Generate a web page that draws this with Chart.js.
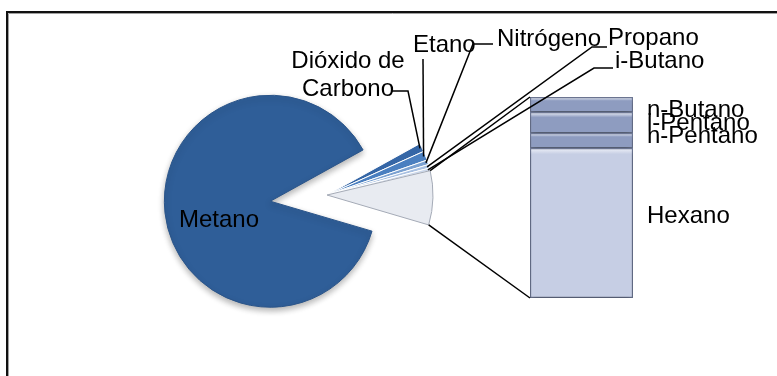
<!DOCTYPE html>
<html>
<head>
<meta charset="utf-8">
<script src="https://cdn.jsdelivr.net/npm/chart.js@4.4.0/dist/chart.umd.min.js"></script>
<style>
  html, body { margin: 0; padding: 0; background: #fff; }
  #wrap { position: relative; width: 777px; height: 376px; overflow: hidden; }
  #wrap canvas { position: absolute; left: 0; top: 0; }
</style>
</head>
<body>
<div id="wrap">
  <canvas id="metanoChart" width="777" height="376"></canvas>
  <canvas id="pieChart" width="777" height="376"></canvas>
  <canvas id="barChart" width="777" height="376"></canvas>
</div>
<script>
// composición del gas (%)
const pieLabels = ['Metano', 'Dióxido de Carbono', 'Etano', 'Nitrógeno', 'Propano', 'i-Butano'];
const pieValues = [87.4, 1.3, 1.4, 0.7, 0.55, 0.4];
const barLabels = ['n-Butano', 'i-Pentano', 'n-Pentano', 'Hexano'];
const barValues = [0.62, 0.86, 0.62, 6.15];

const otherTotal = barValues.reduce((a, b) => a + b, 0);
const allValues = [...pieValues, otherTotal];
const total = allValues.reduce((a, b) => a + b, 0);

const pieColors = ['#2f5e98', '#3566a6', '#4a7fc0', '#7ba1d1', '#a8c0e1', '#cbd8ec', '#e8ebf1'];
const pieBorders = ['#2a5489', '#ffffff', '#ffffff', '#ffffff', '#ffffff', '#ffffff', '#a4aab6'];
const barColors = ['#8e9cc0', '#8e9cc0', '#8e9cc0', '#c6cee4'];

const FONT = '24px "Liberation Sans", Arial, sans-serif';

// pie geometry
const ROTATION = 106.4;         // start of Metano, degrees (chart.js: 0 = up)
const PIE_CX = 327, PIE_CY = 195, PIE_R = 106;
const EXPLODE = 57;             // Metano pulled out to the left

// label layout (text anchor, baseline) and leader elbows toward each slice
const pieLabelPos = [
  { x: 179, y: 227, align: 'left' },
  { x: 348, y: 68, align: 'center', lines: ['Dióxido de', 'Carbono'], lh: 28 },
  { x: 413, y: 52, align: 'left' },
  { x: 497, y: 46, align: 'left' },
  { x: 608, y: 45, align: 'left' },
  { x: 615, y: 68, align: 'left' }
];
const leaderPaths = [
  null,
  [[392, 91], [408, 91]],
  [[423, 59]],
  [[493, 44], [473, 44]],
  [[607, 47], [592, 47]],
  [[613, 68], [594, 68]]
];
const barLabelBaselines = [117, 130, 143, 223];

function padAround(cx, cy) {
  return { left: cx - 110, right: 777 - cx - 110, top: cy - 100, bottom: 376 - cy - 100 };
}

// direction of Metano's mid angle -> where its center goes
const metanoMid = (ROTATION - 90 + (allValues[0] / total) * 180) * Math.PI / 180;
const metanoCx = PIE_CX + Math.cos(metanoMid) * EXPLODE;
const metanoCy = PIE_CY + Math.sin(metanoMid) * EXPLODE;

const framePlugin = {
  id: 'frame',
  beforeDraw(chart) {
    const c = chart.ctx;
    c.save();
    c.strokeStyle = '#111';
    c.lineWidth = 2;
    c.beginPath();
    c.moveTo(7, 376); c.lineTo(7, 12); c.lineTo(777, 12);
    c.stroke();
    c.strokeStyle = '#a0a0a0';
    c.lineWidth = 1;
    c.beginPath();
    c.moveTo(8.5, 376); c.lineTo(8.5, 13.5); c.lineTo(777, 13.5);
    c.stroke();
    c.restore();
  }
};

// soft drop shadow under the marks
const shadowPlugin = {
  id: 'softShadow',
  beforeDatasetsDraw(chart) {
    const c = chart.ctx;
    c.save();
    c.shadowColor = 'rgba(0,0,0,0.30)';
    c.shadowBlur = 6;
    c.shadowOffsetY = 3;
  },
  afterDatasetsDraw(chart) {
    chart.ctx.restore();
  }
};

function pieConfig(cx, cy, colors, borders, extraPlugins) {
  return {
    type: 'pie',
    data: {
      labels: [...pieLabels, 'Otro'],
      datasets: [{
        data: allValues,
        backgroundColor: colors,
        borderColor: borders,
        borderWidth: 1,
        radius: PIE_R,
        clip: false
      }]
    },
    options: {
      responsive: false,
      animation: false,
      rotation: ROTATION,
      layout: { padding: padAround(cx, cy) },
      plugins: { legend: { display: false }, tooltip: { enabled: false } }
    },
    plugins: extraPlugins
  };
}

// Metano drawn on its own, shifted out; the rest stays at the pie center
const hide = 'rgba(0,0,0,0)';
const metanoChart = new Chart(document.getElementById('metanoChart'),
  pieConfig(metanoCx, metanoCy,
    pieColors.map((c, i) => i === 0 ? c : hide),
    pieBorders.map((c, i) => i === 0 ? c : hide),
    [framePlugin, shadowPlugin]));

const pieChart = new Chart(document.getElementById('pieChart'),
  pieConfig(PIE_CX, PIE_CY,
    pieColors.map((c, i) => i === 0 ? hide : c),
    pieBorders.map((c, i) => i === 0 ? hide : c),
    []));

const overlayPlugin = {
  id: 'overlay',
  afterDraw(chart) {
    const c = chart.ctx;
    const arcs = pieChart.getDatasetMeta(0).data;
    c.save();
    c.strokeStyle = '#000';
    c.lineWidth = 1.5;

    // connectors from the "other" slice to the bar
    const other = arcs[arcs.length - 1];
    const r = other.outerRadius;
    const topBar = chart.getDatasetMeta(chart.data.datasets.length - 1).data[0];
    const botBar = chart.getDatasetMeta(0).data[0];
    c.beginPath();
    c.moveTo(other.x + Math.cos(other.startAngle) * r, other.y + Math.sin(other.startAngle) * r);
    c.lineTo(topBar.x - topBar.width / 2, topBar.y);
    c.moveTo(other.x + Math.cos(other.endAngle) * r, other.y + Math.sin(other.endAngle) * r);
    c.lineTo(botBar.x - botBar.width / 2, botBar.base);
    c.stroke();

    // leader lines for the thin slices
    leaderPaths.forEach((pts, i) => {
      if (!pts) return;
      const a = arcs[i];
      const mid = (a.startAngle + a.endAngle) / 2;
      const rr = a.outerRadius - 2;
      c.beginPath();
      c.moveTo(pts[0][0], pts[0][1]);
      pts.slice(1).forEach(p => c.lineTo(p[0], p[1]));
      c.lineTo(a.x + Math.cos(mid) * rr, a.y + Math.sin(mid) * rr);
      c.stroke();
    });

    // text
    c.fillStyle = '#000';
    c.font = FONT;
    c.textBaseline = 'alphabetic';
    pieLabels.forEach((name, i) => {
      const p = pieLabelPos[i];
      c.textAlign = p.align;
      const lines = p.lines || [name];
      lines.forEach((t, k) => c.fillText(t, p.x, p.y + k * (p.lh || 0)));
    });
    c.textAlign = 'left';
    const barRight = topBar.x + topBar.width / 2;
    barLabels.forEach((name, i) => {
      c.fillText(name, barRight + 14, barLabelBaselines[i]);
    });
    c.restore();
  }
};

// vertical bevel gradient for each band of the bar
function bandFill(base) {
  return (ctx) => {
    const chart = ctx.chart;
    const el = ctx.element;
    if (!chart.chartArea || !el || el.base === undefined) return base;
    const top = Math.min(el.y, el.base), bot = Math.max(el.y, el.base);
    if (!isFinite(top) || bot - top < 1) return base;
    const g = chart.ctx.createLinearGradient(0, top, 0, bot);
    const lift = Math.min(0.25, 6 / (bot - top));
    g.addColorStop(0, '#eef1f8');
    g.addColorStop(lift, base);
    g.addColorStop(1, base);
    return g;
  };
}

// stacked bar: bottom-up order is Hexano ... n-Butano
const barSets = barLabels.map((name, i) => ({
  label: name,
  data: [barValues[i]],
  backgroundColor: bandFill(barColors[i]),
  borderColor: '#6f7996',
  borderWidth: 1.5,
  borderSkipped: false
})).reverse();

const barChart = new Chart(document.getElementById('barChart'), {
  type: 'bar',
  data: { labels: ['Otro'], datasets: barSets },
  options: {
    responsive: false,
    animation: false,
    layout: { padding: { left: 530, right: 144, top: 97, bottom: 78 } },
    datasets: { bar: { barPercentage: 1, categoryPercentage: 1 } },
    scales: {
      x: { display: false, stacked: true },
      y: { display: false, stacked: true, min: 0, max: otherTotal }
    },
    plugins: { legend: { display: false }, tooltip: { enabled: false } }
  },
  plugins: [shadowPlugin, overlayPlugin]
});
barChart.update();
</script>
</body>
</html>
